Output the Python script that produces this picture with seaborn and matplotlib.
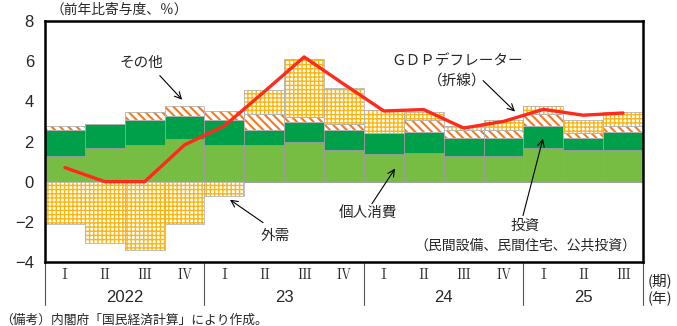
import matplotlib
matplotlib.use("Agg")
import matplotlib.pyplot as plt
import matplotlib.transforms as mtransforms
import numpy as np
import pandas as pd
import seaborn as sns

# データ（前年比寄与度、%）
periods = [f"{y}Q{q}" for y, n in [(2022, 4), (2023, 4), (2024, 4), (2025, 3)] for q in range(1, n + 1)]
quarter_labels = ["Ⅰ", "Ⅱ", "Ⅲ", "Ⅳ", "Ⅰ", "Ⅱ", "Ⅲ", "Ⅳ", "Ⅰ", "Ⅱ", "Ⅲ", "Ⅳ", "Ⅰ", "Ⅱ", "Ⅲ"]
year_labels = ["2022", "23", "24", "25"]
year_counts = [4, 4, 4, 3]

kojin_shohi = [1.30, 1.68, 1.84, 2.14, 1.84, 1.84, 1.99, 1.56, 1.36, 1.45, 1.26, 1.26, 1.69, 1.56, 1.56]
toshi = [1.26, 1.19, 1.23, 1.12, 1.23, 0.72, 1.00, 1.00, 1.08, 1.02, 0.90, 0.90, 1.10, 0.60, 0.90]
sonota = [0.20, 0.00, 0.40, 0.51, 0.45, 0.83, 0.25, 0.30, 0.00, 0.60, 0.40, 0.42, 0.57, 0.28, 0.30]
gaiju = [-2.09, -3.04, -3.40, -2.09, -0.71, 1.19, 2.86, 1.82, 1.11, 0.42, 0.20, 0.49, 0.43, 0.62, 0.70]
gdp_deflator = [0.70, 0.00, 0.00, 1.83, 2.78, 4.48, 6.21, 4.85, 3.52, 3.59, 2.67, 3.00, 3.60, 3.31, 3.42]

df = pd.DataFrame({
    "period": periods,
    "個人消費": kojin_shohi,
    "投資": toshi,
    "その他": sonota,
    "外需": gaiju,
    "GDPデフレーター": gdp_deflator,
})

cons = df["個人消費"].to_numpy()
inv = df["投資"].to_numpy()
oth = df["その他"].to_numpy()
ext = df["外需"].to_numpy()
inv_bottom = cons
oth_bottom = cons + inv
ext_bottom = np.where(ext >= 0, cons + inv + oth, 0.0)

sns.set_theme(style="white")
plt.rcParams["font.family"] = ["Noto Sans CJK JP", "DejaVu Sans"]
plt.rcParams["axes.unicode_minus"] = True
num_font = ["Liberation Sans Narrow", "Liberation Sans", "DejaVu Sans"]

fig = plt.figure(figsize=(6.77, 3.26), dpi=100)
ax = fig.add_axes([45 / 677, 1 - 262 / 326, 598 / 677, 241 / 326])

light_green = "#78BD43"
dark_green = "#00A04A"
orange = "#F47B20"
yellow = "#FCB511"
edge = "#9C9C9C"

common = dict(data=df, x="period", order=periods, width=1.0, saturation=1, ax=ax, errorbar=None)

sns.barplot(y="個人消費", color=light_green, edgecolor=edge, linewidth=0.6, **common)
sns.barplot(y="投資", bottom=inv_bottom, color=dark_green, edgecolor=edge, linewidth=0.6, **common)

n0 = len(ax.patches)
with plt.rc_context({"hatch.linewidth": 1.5}):
    sns.barplot(y="その他", bottom=oth_bottom, color="white", edgecolor=orange,
                hatch="\\\\\\\\", linewidth=0, **common)
for p in ax.patches[n0:]:
    if hasattr(p, "set_hatch_linewidth"):
        p.set_hatch_linewidth(1.5)

n1 = len(ax.patches)
with plt.rc_context({"hatch.linewidth": 1.0}):
    sns.barplot(y="外需", bottom=ext_bottom, color="white", edgecolor=yellow,
                hatch="++++", linewidth=0, **common)
for p in ax.patches[n1:]:
    if hasattr(p, "set_hatch_linewidth"):
        p.set_hatch_linewidth(1.0)

# 枠線
sns.barplot(y="その他", bottom=oth_bottom, color="#B5B5B5", fill=False, linewidth=0.6, **common)
sns.barplot(y="外需", bottom=ext_bottom, color="#B5B5B5", fill=False, linewidth=0.6, **common)

# GDPデフレーター（折線）
sns.lineplot(x=np.arange(len(periods)), y=df["GDPデフレーター"], color="#FF2A1C",
             linewidth=2.4, ax=ax, zorder=5)

ax.set_xlim(-0.5, len(periods) - 0.5)
ax.set_ylim(-4, 8)
ax.set_yticks(np.arange(-4, 9, 2))
ax.set_yticklabels([str(v).replace("-", "\u2212") for v in range(-4, 9, 2)],
                   fontsize=12, family=num_font)
ax.tick_params(axis="y", length=0, pad=8)
ax.set_xticks([])
ax.set_xlabel("")
ax.set_ylabel("")
for s in ax.spines.values():
    s.set_color("black")
    s.set_linewidth(1.8)

# 横軸ラベル
trans = mtransforms.blended_transform_factory(ax.transData, ax.transAxes)
for i, q in enumerate(quarter_labels):
    ax.text(i, -0.054, q, transform=trans, ha="center", va="center", fontsize=10,
            family=["Noto Serif CJK JP", "Noto Sans CJK JP", "DejaVu Sans"])
start = -0.5
bounds = [start]
for lab, n in zip(year_labels, year_counts):
    ax.text(start + n / 2, -0.149, lab, transform=trans, ha="center", va="center",
            fontsize=12, family=num_font)
    start += n
    bounds.append(start)
for b in bounds:
    ax.plot([b, b], [0, -0.178], transform=trans, color="#555555", lw=0.8, clip_on=False)
ax.text(1.008, -0.079, "(期)", transform=ax.transAxes, ha="left", va="center", fontsize=10.5)
ax.text(1.008, -0.154, "(年)", transform=ax.transAxes, ha="left", va="center", fontsize=10.5)

# 注記
fs = 10.5
arrow = dict(arrowstyle="->", color="black", lw=0.8, shrinkA=0, shrinkB=0)
ax.text(1.91, 5.93, "その他", ha="center", va="center", fontsize=fs)
ax.annotate("", xy=(2.94, 4.08), xytext=(2.38, 5.28), arrowprops=arrow)
ax.text(9.83, 5.98, "ＧＤＰデフレーター", ha="center", va="center", fontsize=fs)
ax.text(9.83, 5.03, "（折線）", ha="center", va="center", fontsize=fs)
ax.annotate("", xy=(11.29, 3.49), xytext=(10.49, 5.03), arrowprops=arrow)
ax.text(5.27, -2.69, "外需", ha="center", va="center", fontsize=fs)
ax.annotate("", xy=(4.14, -0.90), xytext=(4.97, -2.04), arrowprops=arrow)
ax.text(7.60, -1.59, "個人消費", ha="center", va="center", fontsize=fs)
ax.annotate("", xy=(8.28, 0.65), xytext=(7.70, -1.10), arrowprops=arrow)
ax.text(11.54, -2.19, "投資", ha="center", va="center", fontsize=fs)
ax.annotate("", xy=(11.99, 2.14), xytext=(11.49, -1.69), arrowprops=arrow)
ax.text(11.56, -3.19, "（民間設備、民間住宅、公共投資）", ha="center", va="center", fontsize=10)

fig.text(50 / 677, 1 - 10 / 326, "（前年比寄与度、％）", ha="left", va="center", fontsize=9.9)
fig.text(0.0, 1 - 320 / 326, "（備考）内閣府「国民経済計算」により作成。", ha="left", va="center", fontsize=9.2)

fig.savefig("out.png", dpi=100)
